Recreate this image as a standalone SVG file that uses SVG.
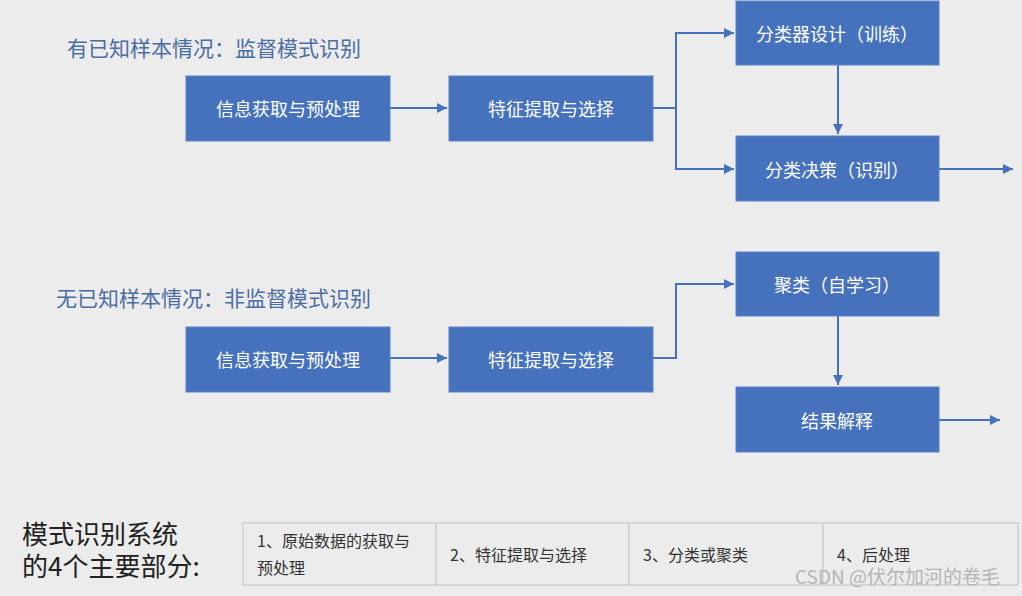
<svg xmlns="http://www.w3.org/2000/svg" width="1022" height="596" viewBox="0 0 1022 596">
<style>
.bg{fill:#ececec}
.box{fill:#4672bd;stroke:#5b82c8;stroke-width:1}
.bt{font-family:"Noto Sans CJK SC","Noto Sans",sans-serif;font-size:18px;fill:#ffffff;text-anchor:middle;dominant-baseline:central}
.title{font-family:"Noto Sans CJK SC","Noto Sans",sans-serif;font-size:21px;fill:#4a6da3}
.big{font-family:"Noto Sans CJK SC","Noto Sans",sans-serif;font-size:26px;fill:#222222}
.cell{fill:#ececec;stroke:#cfcfcf;stroke-width:1.5}
.ct{font-family:"Noto Sans CJK SC","Noto Sans",sans-serif;font-size:16px;fill:#333333}
.wm{font-family:"Noto Sans CJK SC","Liberation Sans",sans-serif;font-size:19px;fill:#b5b5b5}
.ln{fill:none;stroke:#4672bd;stroke-width:2}
</style>
<defs>
<marker id="ah" viewBox="0 0 10 10" refX="10" refY="5" markerWidth="5" markerHeight="5.5" orient="auto" markerUnits="strokeWidth">
<path d="M0,0 L10,5 L0,10 Z" fill="#4672bd"/>
</marker>
</defs>
<rect class="bg" x="0" y="0" width="1022" height="596"/>
<text class="title" x="67" y="56">有已知样本情况：监督模式识别</text>
<text class="title" x="56" y="306">无已知样本情况：非监督模式识别</text>
<g id="connectors">
<path class="ln" d="M390,108 H447" marker-end="url(#ah)"/>
<path class="ln" d="M653,108 H676 V33 H734" marker-end="url(#ah)"/>
<path class="ln" d="M676,108 V169 H734" marker-end="url(#ah)"/>
<path class="ln" d="M838,65 V134" marker-end="url(#ah)"/>
<path class="ln" d="M939,169 H1013" marker-end="url(#ah)"/>
<path class="ln" d="M390,358 H447" marker-end="url(#ah)"/>
<path class="ln" d="M653,358 H676 V284 H734" marker-end="url(#ah)"/>
<path class="ln" d="M838,316 V385" marker-end="url(#ah)"/>
<path class="ln" d="M939,420 H1000" marker-end="url(#ah)"/>
</g>
<g id="n1"><rect class="box" x="186" y="76" width="204" height="65"/><text class="bt" x="288" y="108">信息获取与预处理</text></g>
<g id="n2"><rect class="box" x="449" y="76" width="204" height="65"/><text class="bt" x="551" y="108">特征提取与选择</text></g>
<g id="n3"><rect class="box" x="736" y="1" width="203" height="64"/><text class="bt" x="837" y="33">分类器设计（训练）</text></g>
<g id="n4"><rect class="box" x="736" y="136" width="203" height="65"/><text class="bt" x="837" y="169">分类决策（识别）</text></g>
<g id="n5"><rect class="box" x="186" y="327" width="204" height="65"/><text class="bt" x="288" y="359">信息获取与预处理</text></g>
<g id="n6"><rect class="box" x="449" y="327" width="204" height="65"/><text class="bt" x="551" y="359">特征提取与选择</text></g>
<g id="n7"><rect class="box" x="736" y="252" width="203" height="64"/><text class="bt" x="837" y="284">聚类（自学习）</text></g>
<g id="n8"><rect class="box" x="736" y="387" width="203" height="65"/><text class="bt" x="837" y="420">结果解释</text></g>
<text class="big" x="22" y="544">模式识别系统</text>
<text class="big" x="22" y="576">的4个主要部分:</text>
<g id="table">
<rect class="cell" x="243" y="523" width="193" height="62"/>
<rect class="cell" x="436" y="523" width="193" height="62"/>
<rect class="cell" x="629" y="523" width="194" height="62"/>
<rect class="cell" x="823" y="523" width="195" height="62"/>
<text class="ct" x="257" y="547">1、原始数据的获取与</text>
<text class="ct" x="257" y="574">预处理</text>
<text class="ct" x="450" y="561">2、特征提取与选择</text>
<text class="ct" x="643" y="561">3、分类或聚类</text>
<text class="ct" x="837" y="561">4、后处理</text>
</g>
<text class="wm" x="795" y="584">CSDN @伏尔加河的卷毛</text>
</svg>
